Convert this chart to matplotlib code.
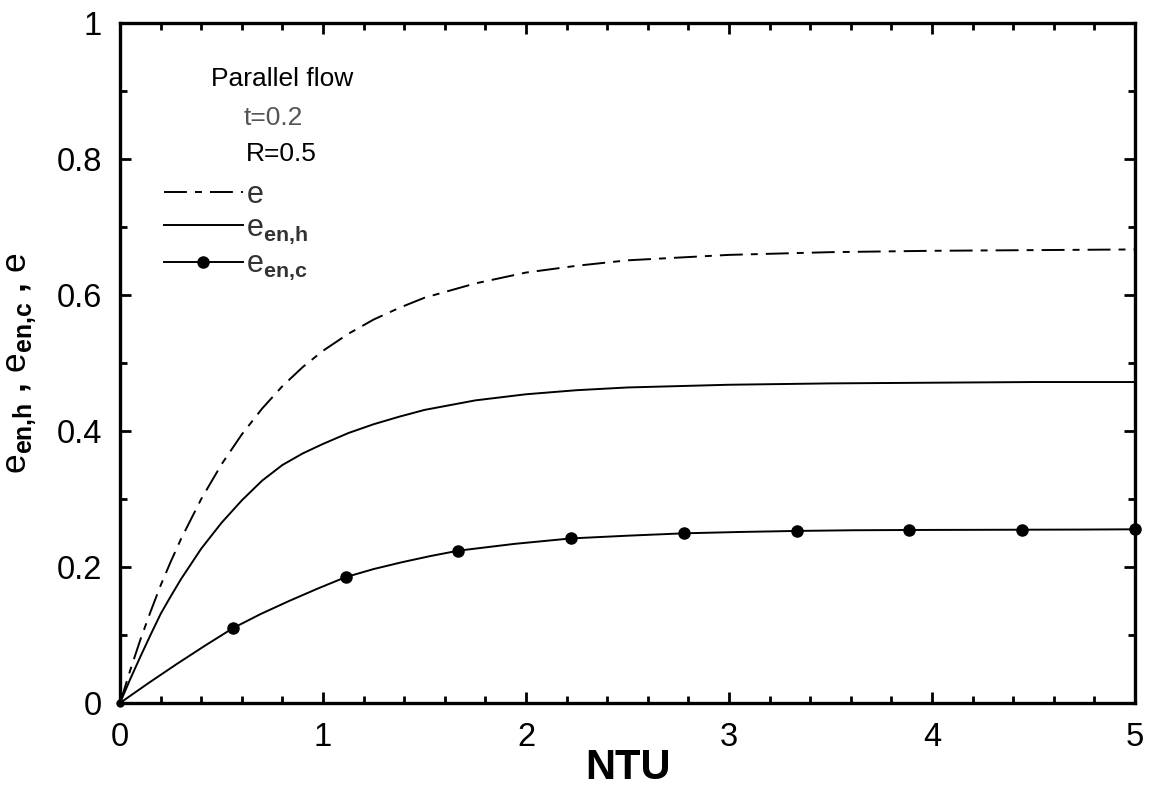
import matplotlib
matplotlib.use("Agg")
import matplotlib.pyplot as plt
from matplotlib.ticker import MultipleLocator
from matplotlib.lines import Line2D

plt.rcParams['font.family'] = ['Liberation Sans', 'DejaVu Sans']
plt.rcParams['mathtext.fontset'] = 'custom'
plt.rcParams['mathtext.rm'] = 'Liberation Sans'
plt.rcParams['mathtext.bf'] = 'Liberation Sans:bold'
plt.rcParams['lines.scale_dashes'] = False

# effectiveness e and entransy effectiveness (hot side) vs NTU
ntu = [0, 0.05, 0.1, 0.15, 0.2, 0.25, 0.3, 0.4, 0.5, 0.6, 0.7, 0.8, 0.9, 1.0,
       1.125, 1.25, 1.375, 1.5, 1.75, 2.0, 2.25, 2.5, 3.0, 3.5, 4.0, 4.5, 5.0]
eff = [0, 0.048, 0.093, 0.134, 0.173, 0.208, 0.241, 0.300, 0.351, 0.395, 0.433,
       0.466, 0.494, 0.518, 0.543, 0.564, 0.581, 0.596, 0.617, 0.633, 0.643,
       0.651, 0.659, 0.663, 0.665, 0.666, 0.667]
eff_h = [0, 0.035, 0.068, 0.100, 0.131, 0.157, 0.182, 0.227, 0.265, 0.298, 0.327,
         0.350, 0.367, 0.381, 0.397, 0.410, 0.421, 0.431, 0.445, 0.454, 0.460,
         0.464, 0.468, 0.470, 0.471, 0.472, 0.472]

# entransy effectiveness (cold side), markers every 5/9 NTU
ntu_c = [0, 0.139, 0.278, 0.417, 0.556, 0.694, 0.833, 0.972, 1.111, 1.25, 1.389,
         1.528, 1.667, 1.944, 2.222, 2.5, 2.778, 3.056, 3.333, 3.611, 3.889,
         4.167, 4.444, 4.722, 5.0]
eff_c = [0, 0.029, 0.057, 0.084, 0.110, 0.131, 0.150, 0.168, 0.185, 0.197, 0.207,
         0.216, 0.224, 0.234, 0.242, 0.246, 0.2495, 0.2515, 0.253, 0.254, 0.2544,
         0.2546, 0.2548, 0.255, 0.2554]
marker_idx = [4, 8, 12, 14, 16, 18, 20, 22, 24]

fig = plt.figure(figsize=(11.51, 7.91), dpi=100)
ax = fig.add_axes([0.1043, 0.1113, 0.8818, 0.8596])

dashdot = (0, (16.5, 5.8, 5.0, 5.8))
ax.plot(ntu, eff, color='black', lw=1.4, linestyle=dashdot, clip_on=False)
ax.plot(ntu, eff_h, color='black', lw=1.4, clip_on=False)
ax.plot(ntu_c, eff_c, color='black', lw=1.4, marker='o', markersize=8,
        markevery=marker_idx, clip_on=False)
ax.plot(ntu_c[0], eff_c[0], 'o', color='black', markersize=5, clip_on=False)

ax.set_xlim(0, 5)
ax.set_ylim(0, 1)
ax.xaxis.set_minor_locator(MultipleLocator(0.2))
ax.yaxis.set_minor_locator(MultipleLocator(0.1))
ax.set_xticks([0, 1, 2, 3, 4, 5])
ax.set_yticks([0, 0.2, 0.4, 0.6, 0.8, 1.0])
ax.set_xticklabels(['0', '1', '2', '3', '4', '5'])
ax.set_yticklabels(['0', '0.2', '0.4', '0.6', '0.8', '1'])

ax.tick_params(which='both', direction='in', top=True, right=True, width=2)
ax.tick_params(which='major', length=8, labelsize=23.5)
ax.tick_params(which='minor', length=5)
ax.tick_params(axis='x', pad=14)
ax.tick_params(axis='y', pad=13)
for s in ax.spines.values():
    s.set_linewidth(2.4)

ax.set_xlabel('NTU', fontsize=30, fontweight='bold', labelpad=-4)
ax.set_ylabel(r'$\mathrm{e}_{\mathbf{en{,}h}}$ , $\mathrm{e}_{\mathbf{en{,}c}}$ , $\mathrm{e}$',
              fontsize=25.5, fontweight='bold', labelpad=13)

# case annotation
ax.text(0.16, 0.918, 'Parallel flow', transform=ax.transAxes, fontsize=19,
        ha='center', va='center')
ax.text(0.151, 0.861, 't=0.2', transform=ax.transAxes, fontsize=19,
        ha='center', va='center', color='#555555')
ax.text(0.159, 0.808, 'R=0.5', transform=ax.transAxes, fontsize=19,
        ha='center', va='center')

handles = [
    Line2D([], [], color='black', lw=1.4, linestyle=dashdot),
    Line2D([], [], color='black', lw=1.4),
    Line2D([], [], color='black', lw=1.4, marker='o', markersize=8),
]
labels = [r'$\mathrm{e}$', r'$\mathrm{e}_{\mathbf{en{,}h}}$', r'$\mathrm{e}_{\mathbf{en{,}c}}$']
leg = ax.legend(handles, labels, loc='upper left', bbox_to_anchor=(0.031, 0.787),
                frameon=False, fontsize=22, handlelength=2.6, handletextpad=0.1,
                labelspacing=0.1, borderaxespad=0)
for t in leg.get_texts():
    t.set_color('#333333')

fig.savefig('out.png', dpi=100)
